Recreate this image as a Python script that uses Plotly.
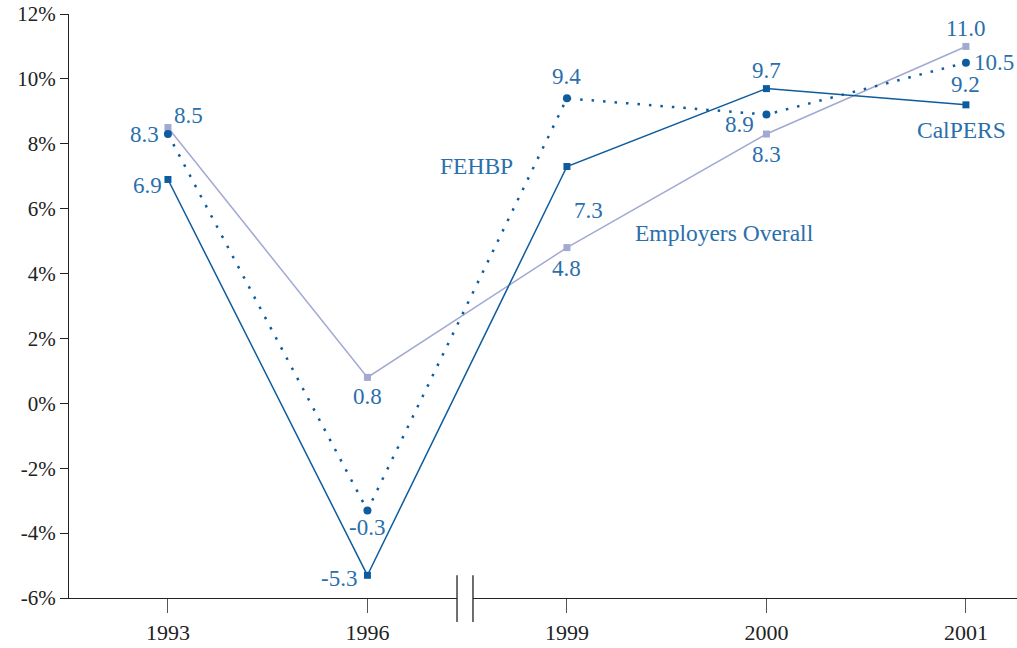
import plotly.graph_objects as go

years = ["1993", "1996", "1999", "2000", "2001"]
calpers = [6.9, -5.3, 7.3, 9.7, 9.2]
calpers_labels = ["6.9", "-5.3", "7.3", "9.7", "9.2"]
fehbp = [8.3, -3.3, 9.4, 8.9, 10.5]
fehbp_labels = ["8.3", "-0.3", "9.4", "8.9", "10.5"]
employers = [8.5, 0.8, 4.8, 8.3, 11.0]
employers_labels = ["8.5", "0.8", "4.8", "8.3", "11.0"]
y_ticks = [-6, -4, -2, 0, 2, 4, 6, 8, 10, 12]
y_ticktext = [f"{v}%" for v in y_ticks]

DARK = "#0d5c9e"
LIGHT = "#a2a9d2"
TXT = "#2a6fab"
FONT = "Liberation Serif"

xs = list(range(len(years)))

fig = go.Figure()
fig.add_trace(go.Scatter(x=xs, y=employers, mode="lines+markers", name="Employers Overall",
                         line=dict(color=LIGHT, width=1.5),
                         marker=dict(symbol="square", size=7, color=LIGHT)))
fig.add_trace(go.Scatter(x=xs, y=fehbp, mode="lines+markers", name="FEHBP",
                         line=dict(color=DARK, width=2.5, dash="2.5px,9px"),
                         marker=dict(symbol="circle", size=8, color=DARK)))
fig.add_trace(go.Scatter(x=xs, y=calpers, mode="lines+markers", name="CalPERS",
                         line=dict(color=DARK, width=1.5),
                         marker=dict(symbol="square", size=7, color=DARK)))

# label placement style: (xanchor, yanchor, xshift, yshift)
cal_pos = [("right", "middle", -4, -6), ("right", "middle", -8, -3), ("left", "top", 5, -30),
           ("center", "bottom", 0, 4), ("center", "bottom", 0, 6)]
feh_pos = [("right", "middle", -7, 0), ("center", "top", 0, -3), ("center", "bottom", 0, 7),
           ("right", "top", -10, 5), ("left", "middle", 6, 0)]
emp_pos = [("left", "bottom", 4, -2), ("center", "top", 0, -5), ("center", "top", 0, -6),
           ("center", "top", 0, -6), ("center", "bottom", 0, 3)]

anns = []
for vals, labs, pos in [(calpers, calpers_labels, cal_pos), (fehbp, fehbp_labels, feh_pos),
                        (employers, employers_labels, emp_pos)]:
    for i, (v, t) in enumerate(zip(vals, labs)):
        xa, ya, xsft, ysft = pos[i]
        anns.append(dict(x=xs[i], y=v, text=t, showarrow=False, xanchor=xa, yanchor=ya,
                         xshift=xsft, yshift=ysft, font=dict(family=FONT, size=23, color=TXT)))

# series names
anns.append(dict(x=1.545, y=7.3, text="FEHBP", showarrow=False, font=dict(family=FONT, size=23.5, color=TXT)))
anns.append(dict(x=2.79, y=5.25, text="Employers Overall", showarrow=False, font=dict(family=FONT, size=23.5, color=TXT)))
anns.append(dict(x=3.98, y=8.42, text="CalPERS", showarrow=False, font=dict(family=FONT, size=23.5, color=TXT)))

shapes = [
    # axis break: hide axis segment between marks
    dict(type="line", xref="x", yref="paper", x0=1.449, x1=1.529, y0=0, y1=0,
         line=dict(color="white", width=3), layer="above"),
    dict(type="line", xref="x", yref="paper", x0=1.449, x1=1.449, y0=0.039, y1=-0.041,
         line=dict(color="#222", width=1.3), layer="above"),
    dict(type="line", xref="x", yref="paper", x0=1.529, x1=1.529, y0=0.039, y1=-0.041,
         line=dict(color="#222", width=1.3), layer="above"),
]

fig.update_layout(
    width=1017, height=648,
    margin=dict(l=69, r=0, t=14, b=50),
    paper_bgcolor="white", plot_bgcolor="white",
    showlegend=False,
    annotations=anns, shapes=shapes,
    font=dict(family=FONT, size=21, color="#222"),
    xaxis=dict(range=[-0.496, 4.256], tickmode="array", tickvals=xs, ticktext=years,
               showgrid=False, zeroline=False, showline=True, linecolor="#222", linewidth=1.3,
               ticks="outside", ticklen=14, tickcolor="#555", tickwidth=1.3, automargin=False,
               tickfont=dict(family=FONT, size=22, color="#222")),
    yaxis=dict(range=[-6, 12], tickmode="array", tickvals=y_ticks, ticktext=y_ticktext,
               showgrid=False, zeroline=False, showline=True, linecolor="#222", linewidth=1.3,
               ticks="outside", ticklen=8, tickcolor="#222", tickwidth=1.3, automargin=False,
               tickfont=dict(family=FONT, size=21, color="#222")),
)

fig.write_html("out.html", config={"displayModeBar": False},
               post_script="document.body.style.margin='0';document.body.style.overflow='hidden';")
